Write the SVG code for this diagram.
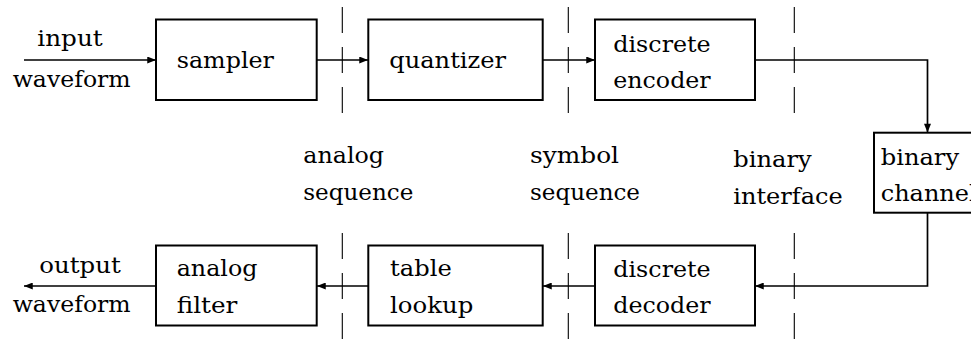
<svg xmlns="http://www.w3.org/2000/svg" width="971" height="339" viewBox="0 0 971 339">
<defs>
<style>
.box{fill:#fff;stroke:#000;stroke-width:2}
.t{font-family:"DejaVu Serif",serif;font-size:22.5px;fill:#000}
.c{fill:none;stroke:#000;stroke-width:1.7}
.d{fill:none;stroke:#000;stroke-width:1.1;stroke-dasharray:26 14}
</style>
<marker id="ah" viewBox="0 0 10 8" refX="10" refY="4" markerWidth="10" markerHeight="7" markerUnits="userSpaceOnUse" orient="auto">
<path d="M0,0 L10,4 L0,8 z" fill="#000"/>
</marker>
</defs>
<rect width="971" height="339" fill="#fff"/>

<g id="dividers">
<line class="d" x1="342.3" y1="7" x2="342.3" y2="114"/>
<line class="d" x1="568.3" y1="7" x2="568.3" y2="114"/>
<line class="d" x1="794.3" y1="7" x2="794.3" y2="114"/>
<line class="d" x1="342.3" y1="233" x2="342.3" y2="339"/>
<line class="d" x1="568.3" y1="233" x2="568.3" y2="339"/>
<line class="d" x1="794.3" y1="233" x2="794.3" y2="339"/>
</g>

<g id="connectors">
<line class="c" x1="24" y1="60" x2="156" y2="60" marker-end="url(#ah)"/>
<line class="c" x1="317" y1="60" x2="368" y2="60" marker-end="url(#ah)"/>
<line class="c" x1="543" y1="60" x2="595" y2="60" marker-end="url(#ah)"/>
<polyline class="c" points="755,60 927.5,60 927.5,132.5" marker-end="url(#ah)"/>
<polyline class="c" points="927.5,213 927.5,286 755,286" marker-end="url(#ah)"/>
<line class="c" x1="595" y1="286" x2="543" y2="286" marker-end="url(#ah)"/>
<line class="c" x1="368" y1="286" x2="317" y2="286" marker-end="url(#ah)"/>
<line class="c" x1="156" y1="286" x2="24" y2="286" marker-end="url(#ah)"/>
</g>

<g id="input-label">
<text class="t" x="37.3" y="46" textLength="65.4" lengthAdjust="spacingAndGlyphs">input</text>
<text class="t" x="12.7" y="87" textLength="118" lengthAdjust="spacingAndGlyphs">waveform</text>
</g>

<g id="sampler">
<rect class="box" x="156" y="19.5" width="160.7" height="80.5"/>
<text class="t" x="176.7" y="68" textLength="97.3" lengthAdjust="spacingAndGlyphs">sampler</text>
</g>

<g id="quantizer">
<rect class="box" x="368.3" y="19.5" width="174.4" height="80.5"/>
<text class="t" x="389.3" y="68" textLength="116.7" lengthAdjust="spacingAndGlyphs">quantizer</text>
</g>

<g id="discrete-encoder">
<rect class="box" x="595" y="19.5" width="160" height="80.5"/>
<text class="t" x="613.3" y="51.5" textLength="97.4" lengthAdjust="spacingAndGlyphs">discrete</text>
<text class="t" x="613.3" y="88" textLength="97.4" lengthAdjust="spacingAndGlyphs">encoder</text>
</g>

<g id="binary-channel">
<rect class="box" x="874" y="132.7" width="130" height="80"/>
<text class="t" x="880.7" y="164.5" textLength="78.4" lengthAdjust="spacingAndGlyphs">binary</text>
<text class="t" x="880.7" y="201" textLength="96" lengthAdjust="spacingAndGlyphs">channel</text>
</g>

<g id="discrete-decoder">
<rect class="box" x="595" y="245.5" width="160" height="80"/>
<text class="t" x="613.3" y="276.5" textLength="97.4" lengthAdjust="spacingAndGlyphs">discrete</text>
<text class="t" x="613.3" y="313" textLength="97.4" lengthAdjust="spacingAndGlyphs">decoder</text>
</g>

<g id="table-lookup">
<rect class="box" x="368.3" y="245.5" width="174.4" height="80"/>
<text class="t" x="390" y="276" textLength="61.7" lengthAdjust="spacingAndGlyphs">table</text>
<text class="t" x="390" y="312.5" textLength="83.3" lengthAdjust="spacingAndGlyphs">lookup</text>
</g>

<g id="analog-filter">
<rect class="box" x="156" y="245.5" width="160.7" height="80"/>
<text class="t" x="176.7" y="276" textLength="80.7" lengthAdjust="spacingAndGlyphs">analog</text>
<text class="t" x="176.7" y="313" textLength="60.7" lengthAdjust="spacingAndGlyphs">filter</text>
</g>

<g id="output-label">
<text class="t" x="39.3" y="272.7" textLength="81.4" lengthAdjust="spacingAndGlyphs">output</text>
<text class="t" x="12.7" y="311.7" textLength="118" lengthAdjust="spacingAndGlyphs">waveform</text>
</g>

<g id="analog-sequence">
<text class="t" x="303.3" y="163" textLength="80.7" lengthAdjust="spacingAndGlyphs">analog</text>
<text class="t" x="303.3" y="199.5" textLength="110" lengthAdjust="spacingAndGlyphs">sequence</text>
</g>

<g id="symbol-sequence">
<text class="t" x="530" y="163" textLength="89" lengthAdjust="spacingAndGlyphs">symbol</text>
<text class="t" x="530" y="199.5" textLength="110" lengthAdjust="spacingAndGlyphs">sequence</text>
</g>

<g id="binary-interface">
<text class="t" x="733.3" y="166.5" textLength="78.4" lengthAdjust="spacingAndGlyphs">binary</text>
<text class="t" x="733.3" y="203.5" textLength="109.4" lengthAdjust="spacingAndGlyphs">interface</text>
</g>
</svg>
